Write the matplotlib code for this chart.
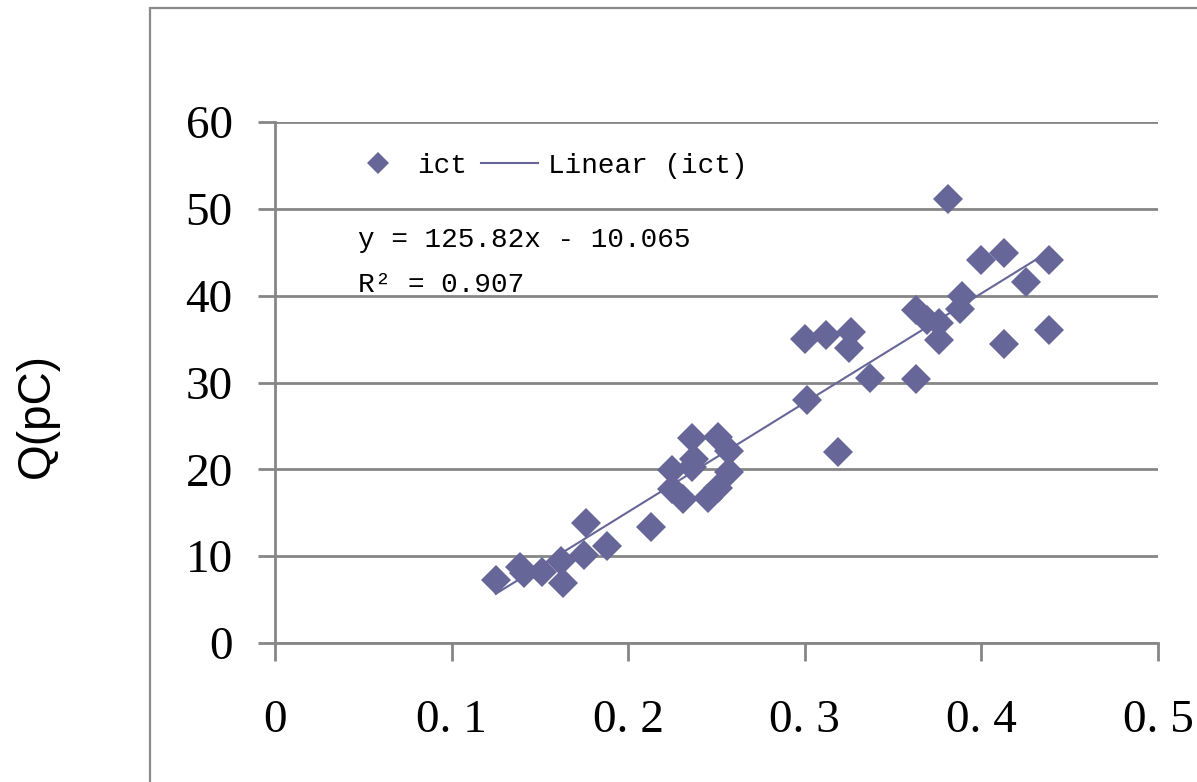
import matplotlib
matplotlib.use("Agg")
import matplotlib.pyplot as plt
from matplotlib.patches import Rectangle
import numpy as np

# Charge measured by the ICT versus the reference signal
ict_x = [0.125, 0.139, 0.141, 0.151, 0.162, 0.163, 0.176, 0.175, 0.188, 0.213,
         0.225, 0.225, 0.231, 0.236, 0.237, 0.236, 0.245, 0.251, 0.251, 0.257,
         0.257, 0.300, 0.312, 0.326, 0.325, 0.301, 0.337, 0.319, 0.381, 0.400,
         0.413, 0.438, 0.425, 0.389, 0.388, 0.363, 0.369, 0.376, 0.376, 0.413,
         0.438, 0.363]
ict_q = [7.3, 8.7, 8.1, 8.2, 9.4, 6.9, 13.8, 10.1, 11.2, 13.4,
         19.9, 17.7, 16.6, 23.6, 21.2, 20.3, 16.7, 17.9, 23.7, 22.1,
         19.7, 35.0, 35.5, 35.8, 34.0, 28.0, 30.5, 22.0, 51.1, 44.1,
         44.9, 44.1, 41.6, 40.0, 38.5, 38.3, 37.2, 36.9, 34.9, 34.4,
         36.0, 30.4]

# Linear trend line coefficients
fit_slope = 125.82
fit_intercept = -10.065
fit_r2 = 0.907

x_ticks = [0, 0.1, 0.2, 0.3, 0.4, 0.5]
x_tick_labels = ["0", "0. 1", "0. 2", "0. 3", "0. 4", "0. 5"]
y_ticks = [0, 10, 20, 30, 40, 50, 60]
y_tick_labels = ["0", "10", "20", "30", "40", "50", "60"]

series_color = "#666699"
grid_color = "#868686"
serif = "Liberation Serif"
mono = "Liberation Mono"

W, H = 1197, 782
fig = plt.figure(figsize=(W / 100, H / 100), dpi=100)
fig.patch.set_facecolor("white")

# Outer chart-area frame
fig.patches.append(Rectangle((150 / W, -0.2), 1.2, (H - 8) / H + 0.2,
                             transform=fig.transFigure, fill=False,
                             edgecolor="#8a8a8a", linewidth=1.6))

ax = fig.add_axes([275 / W, (H - 643) / H, (1158 - 275) / W, (643 - 122) / H])
ax.set_xlim(0, 0.5)
ax.set_ylim(0, 60)

for side in ("top", "right"):
    ax.spines[side].set_visible(False)
for side in ("left", "bottom"):
    ax.spines[side].set_color(grid_color)
    ax.spines[side].set_linewidth(2.0)

ax.set_yticks(y_ticks)
ax.set_yticklabels(y_tick_labels, fontfamily=serif, fontsize=34)
ax.set_xticks(x_ticks)
ax.set_xticklabels(x_tick_labels, fontfamily=serif, fontsize=34)
ax.tick_params(axis="y", length=12.5, width=2.0, color=grid_color, pad=18)
ax.tick_params(axis="x", length=13, width=2.0, color=grid_color, pad=28)
ax.yaxis.grid(True, color=grid_color, linewidth=2.0)
ax.set_axisbelow(True)

pts, = ax.plot(ict_x, ict_q, linestyle="none", marker="D", markersize=15,
               color=series_color, markeredgewidth=0, label="ict", zorder=3)

xf = np.array([min(ict_x), max(ict_x)])
fit, = ax.plot(xf, fit_slope * xf + fit_intercept, color=series_color,
               linewidth=1.5, label="Linear (ict)", zorder=4)

ax.legend(handles=[pts, fit], ncol=2, frameon=False, loc="center left",
          bbox_to_anchor=(350 / W, 1 - 166 / H), bbox_transform=fig.transFigure,
          prop={"family": mono, "size": 20}, borderpad=0, borderaxespad=0,
          handlelength=2.05, handletextpad=0.36, columnspacing=0.5,
          numpoints=1, markerscale=0.75)

fig.text(358 / W, 1 - 247 / H,
         f"y = {fit_slope}x - {abs(fit_intercept)}",
         fontfamily=mono, fontsize=20, va="baseline", ha="left")
fig.text(358 / W, 1 - 292 / H, f"R\u00b2 = {fit_r2}",
         fontfamily=mono, fontsize=20, va="baseline", ha="left")

fig.text(37 / W, 1 - 415 / H, "Q(pC)", rotation=90, fontfamily="Liberation Sans",
         fontsize=33, ha="center", va="center")

fig.savefig("out.png", dpi=100, facecolor="white")
